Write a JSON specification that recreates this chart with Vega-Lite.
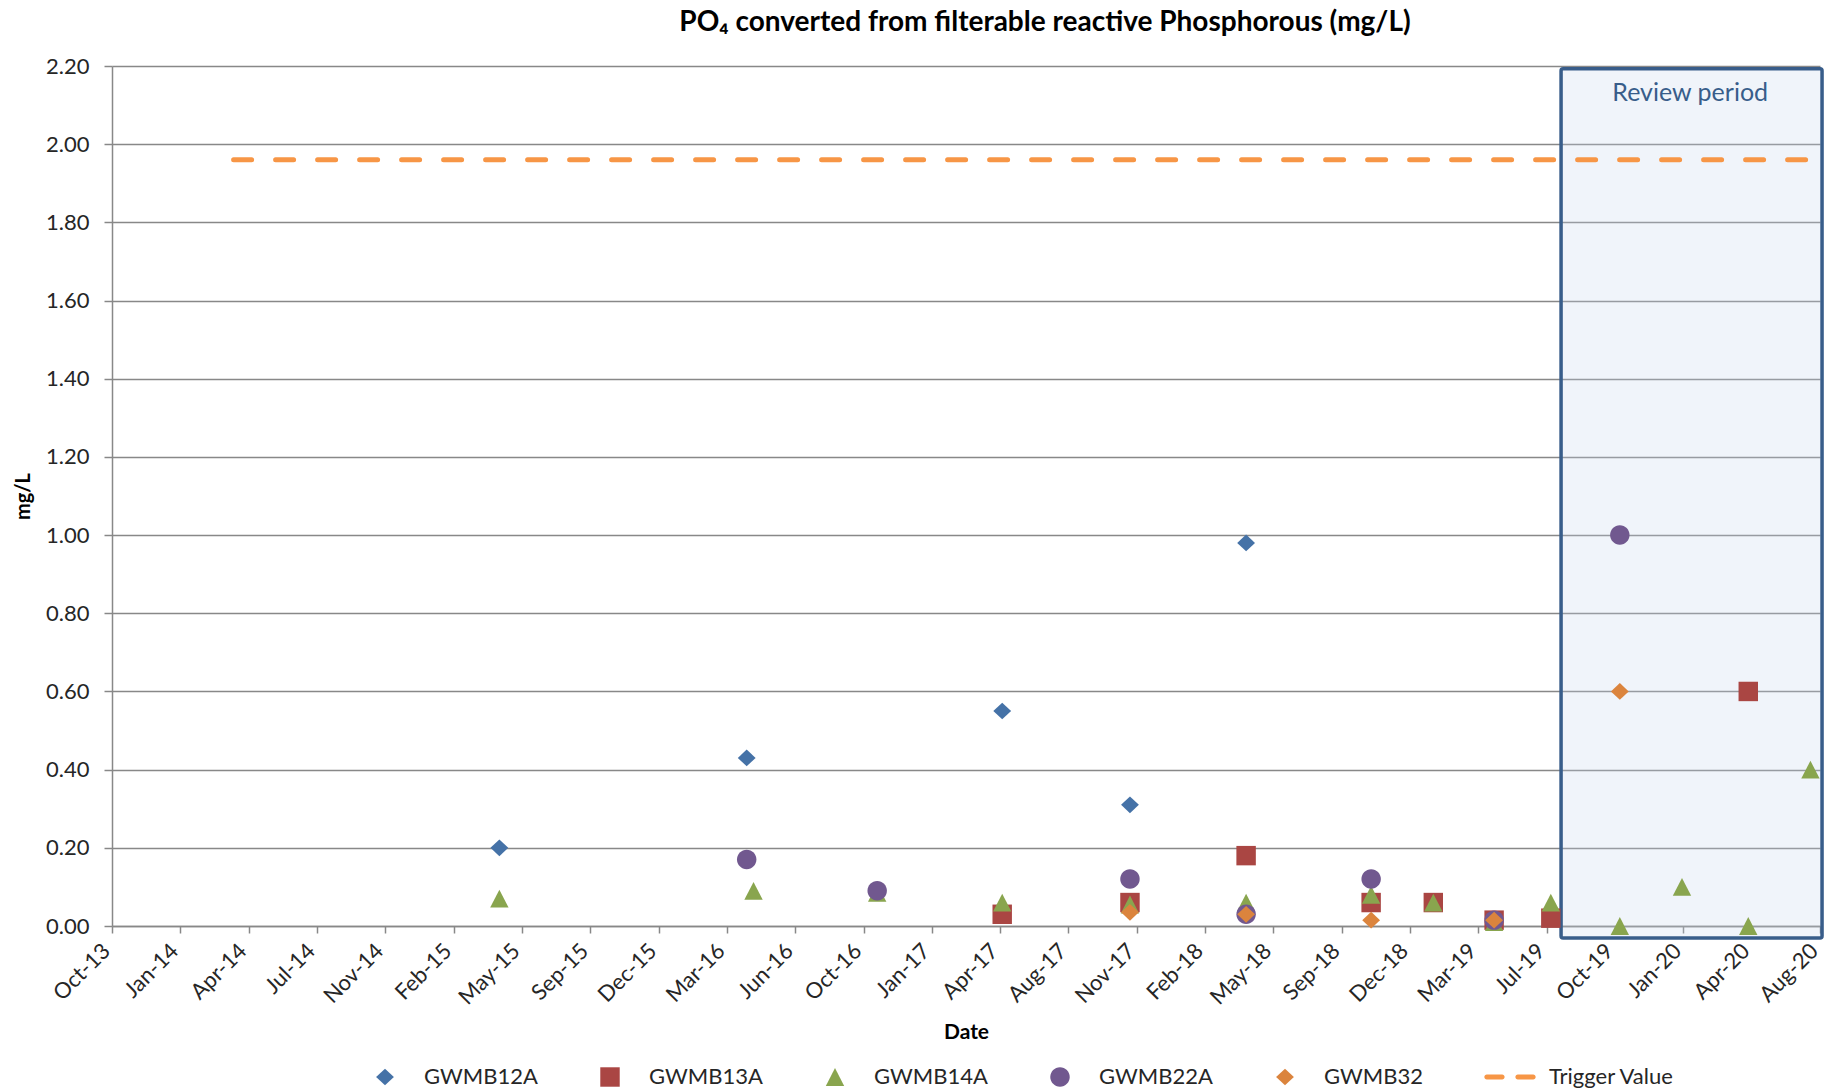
{
  "$schema": "https://vega.github.io/schema/vega-lite/v6.json",
  "autosize": "none",
  "width": 1708,
  "height": 860,
  "padding": {"left": 112, "top": 66, "right": 20, "bottom": 165},
  "background": "white",
  "title": {
    "text": "PO₄ converted from filterable reactive Phosphorous  (mg/L)",
    "font": "Lato",
    "fontSize": 28,
    "fontWeight": "bold",
    "color": "#000000",
    "anchor": "middle",
    "frame": "group",
    "dx": 79,
    "offset": 18
  },
  "datasets": {
    "review": [
      {"label": "Review period", "start": "2019-07-23", "end": "2020-08-08", "labelDate": "2020-01-28", "labelValue": 2.13, "top": 2.193, "bottom": -0.031}
    ],
    "trigger": [
      {"series": "Trigger Value", "start": "2014-03-28", "end": "2020-08-01", "value": 1.96}
    ],
    "samples": [
      {"series": "GWMB12A", "date": "2015-04-21", "value": 0.20},
      {"series": "GWMB12A", "date": "2016-04-17", "value": 0.43},
      {"series": "GWMB12A", "date": "2017-04-26", "value": 0.55},
      {"series": "GWMB12A", "date": "2017-10-30", "value": 0.31},
      {"series": "GWMB12A", "date": "2018-04-18", "value": 0.98},
      {"series": "GWMB13A", "date": "2017-04-26", "value": 0.03},
      {"series": "GWMB13A", "date": "2017-10-30", "value": 0.06},
      {"series": "GWMB13A", "date": "2018-04-18", "value": 0.18},
      {"series": "GWMB13A", "date": "2018-10-18", "value": 0.06},
      {"series": "GWMB13A", "date": "2019-01-17", "value": 0.06},
      {"series": "GWMB13A", "date": "2019-04-16", "value": 0.015},
      {"series": "GWMB13A", "date": "2019-07-08", "value": 0.02},
      {"series": "GWMB13A", "date": "2020-04-22", "value": 0.60},
      {"series": "GWMB14A", "date": "2015-04-21", "value": 0.07},
      {"series": "GWMB14A", "date": "2016-04-27", "value": 0.09},
      {"series": "GWMB14A", "date": "2016-10-25", "value": 0.085},
      {"series": "GWMB14A", "date": "2017-04-26", "value": 0.06},
      {"series": "GWMB14A", "date": "2017-10-30", "value": 0.055},
      {"series": "GWMB14A", "date": "2018-04-18", "value": 0.06},
      {"series": "GWMB14A", "date": "2018-10-18", "value": 0.08},
      {"series": "GWMB14A", "date": "2019-01-17", "value": 0.06},
      {"series": "GWMB14A", "date": "2019-04-16", "value": 0.01},
      {"series": "GWMB14A", "date": "2019-07-08", "value": 0.06},
      {"series": "GWMB14A", "date": "2019-10-17", "value": 0.00},
      {"series": "GWMB14A", "date": "2020-01-16", "value": 0.10},
      {"series": "GWMB14A", "date": "2020-04-22", "value": 0.00},
      {"series": "GWMB14A", "date": "2020-07-22", "value": 0.40},
      {"series": "GWMB22A", "date": "2016-04-17", "value": 0.17},
      {"series": "GWMB22A", "date": "2016-10-25", "value": 0.09},
      {"series": "GWMB22A", "date": "2017-10-30", "value": 0.12},
      {"series": "GWMB22A", "date": "2018-04-18", "value": 0.03},
      {"series": "GWMB22A", "date": "2018-10-18", "value": 0.12},
      {"series": "GWMB22A", "date": "2019-04-16", "value": 0.015},
      {"series": "GWMB22A", "date": "2019-10-17", "value": 1.00},
      {"series": "GWMB32", "date": "2017-10-30", "value": 0.035},
      {"series": "GWMB32", "date": "2018-04-18", "value": 0.03},
      {"series": "GWMB32", "date": "2018-10-18", "value": 0.015},
      {"series": "GWMB32", "date": "2019-04-16", "value": 0.015},
      {"series": "GWMB32", "date": "2019-10-17", "value": 0.60}
    ]
  },
  "config": {
    "view": {"stroke": null},
    "axis": {
      "labelFont": "Lato",
      "titleFont": "Lato",
      "labelColor": "#262626",
      "titleColor": "#000000",
      "domainColor": "#888888",
      "domainWidth": 1.5,
      "tickColor": "#888888",
      "tickWidth": 1.5
    },
    "axisX": {"grid": false},
    "axisY": {"grid": true, "gridColor": "#888888", "gridWidth": 1.4}
  },
  "layer": [
    {
      "data": {"name": "review"},
      "mark": {"type": "rect", "fill": "#C5D5EA", "fillOpacity": 0.25, "stroke": "#385D8A", "strokeWidth": 3.5, "cornerRadius": 2},
      "encoding": {
        "x": {"field": "start", "type": "temporal", "title": "Date", "scale": {"type": "utc", "domain": ["2013-10-01", "2020-08-05"]}},
        "x2": {"field": "end"},
        "y": {"field": "top", "type": "quantitative", "title": "mg/L", "scale": {"domain": [0, 2.2]}},
        "y2": {"field": "bottom"}
      }
    },
    {
      "data": {"name": "review"},
      "mark": {"type": "text", "font": "Lato", "fontSize": 25, "color": "#385D8A", "align": "center", "baseline": "middle"},
      "encoding": {
        "x": {"field": "labelDate", "type": "temporal", "title": "Date", "scale": {"type": "utc", "domain": ["2013-10-01", "2020-08-05"]}},
        "y": {"field": "labelValue", "type": "quantitative", "title": "mg/L", "scale": {"domain": [0, 2.2]}},
        "text": {"field": "label"}
      }
    },
    {
      "data": {"name": "trigger"},
      "mark": {"type": "rule", "color": "#F79646", "strokeWidth": 5, "strokeDash": [18, 24], "strokeCap": "round"},
      "encoding": {
        "x": {"field": "start", "type": "temporal", "title": "Date", "scale": {"type": "utc", "domain": ["2013-10-01", "2020-08-05"]}},
        "x2": {"field": "end"},
        "y": {"field": "value", "type": "quantitative", "title": "mg/L", "scale": {"domain": [0, 2.2]}}
      }
    },
    {
      "data": {"name": "samples"},
      "mark": {"type": "point", "filled": true, "opacity": 1, "size": 2916},
      "encoding": {
        "x": {
          "field": "date",
          "type": "temporal",
          "title": "Date",
          "scale": {"type": "utc", "domain": ["2013-10-01", "2020-08-05"]},
          "axis": {
            "format": "%b-%y",
            "values": [
              {"year": 2013, "month": 10, "date": 1, "utc": true},
              {"year": 2014, "month": 1, "date": 9, "utc": true},
              {"year": 2014, "month": 4, "date": 19, "utc": true},
              {"year": 2014, "month": 7, "date": 28, "utc": true},
              {"year": 2014, "month": 11, "date": 5, "utc": true},
              {"year": 2015, "month": 2, "date": 13, "utc": true},
              {"year": 2015, "month": 5, "date": 24, "utc": true},
              {"year": 2015, "month": 9, "date": 1, "utc": true},
              {"year": 2015, "month": 12, "date": 10, "utc": true},
              {"year": 2016, "month": 3, "date": 19, "utc": true},
              {"year": 2016, "month": 6, "date": 27, "utc": true},
              {"year": 2016, "month": 10, "date": 5, "utc": true},
              {"year": 2017, "month": 1, "date": 13, "utc": true},
              {"year": 2017, "month": 4, "date": 23, "utc": true},
              {"year": 2017, "month": 8, "date": 1, "utc": true},
              {"year": 2017, "month": 11, "date": 9, "utc": true},
              {"year": 2018, "month": 2, "date": 17, "utc": true},
              {"year": 2018, "month": 5, "date": 28, "utc": true},
              {"year": 2018, "month": 9, "date": 5, "utc": true},
              {"year": 2018, "month": 12, "date": 14, "utc": true},
              {"year": 2019, "month": 3, "date": 24, "utc": true},
              {"year": 2019, "month": 7, "date": 2, "utc": true},
              {"year": 2019, "month": 10, "date": 10, "utc": true},
              {"year": 2020, "month": 1, "date": 18, "utc": true},
              {"year": 2020, "month": 4, "date": 27, "utc": true},
              {"year": 2020, "month": 8, "date": 5, "utc": true}
            ],
            "grid": false,
            "tickSize": 7,
            "labelAngle": -45,
            "labelAlign": "right",
            "labelBaseline": "middle",
            "labelPadding": 14,
            "labelOffset": -6,
            "labelFontSize": 22,
            "labelOverlap": false,
            "labelBound": false,
            "labelFlush": false,
            "titleFontSize": 21,
            "titleFontWeight": "bold",
            "titlePadding": 13
          }
        },
        "y": {
          "field": "value",
          "type": "quantitative",
          "title": "mg/L",
          "scale": {"domain": [0, 2.2]},
          "axis": {
            "values": [0, 0.2, 0.4, 0.6, 0.8, 1.0, 1.2, 1.4, 1.6, 1.8, 2.0, 2.2],
            "format": ".2f",
            "grid": true,
            "gridColor": "#888888",
            "gridWidth": 1.4,
            "tickSize": 8,
            "labelPadding": 15,
            "labelFontSize": 22,
            "titleFontSize": 20,
            "titleFontWeight": "bold",
            "titlePadding": 12
          }
        },
        "color": {
          "field": "series",
          "type": "nominal",
          "scale": {
            "domain": ["GWMB12A", "GWMB13A", "GWMB14A", "GWMB22A", "GWMB32", "Trigger Value"],
            "range": ["#4572A7", "#AA4643", "#89A54E", "#71588F", "#DB843D", "#F79646"]
          },
          "legend": {
            "title": null,
            "orient": "none",
            "legendX": 245,
            "legendY": 983,
            "direction": "horizontal",
            "columns": 6,
            "gridAlign": "all",
            "columnPadding": 32,
            "padding": 0,
            "symbolSize": 2916,
            "labelOffset": 11,
            "labelFont": "Lato",
            "labelFontSize": 22,
            "labelColor": "#262626",
            "labelLimit": 300
          }
        },
        "shape": {
          "field": "series",
          "type": "nominal",
          "scale": {
            "domain": ["GWMB12A", "GWMB13A", "GWMB14A", "GWMB22A", "GWMB32", "Trigger Value"],
            "range": [
              "M-0.33,0L0,-0.31L0.33,0L0,0.31Z",
              "M-0.36,-0.36H0.36V0.36H-0.36Z",
              "M0,-0.33L0.34,0.33L-0.34,0.33Z",
              "M0.36,0A0.36,0.36 0 1,1 -0.36,0A0.36,0.36 0 1,1 0.36,0Z",
              "M-0.33,0L0,-0.31L0.33,0L0,0.31Z",
              "M-0.86,-0.09H-0.29A0.09,0.09 0 0,1 -0.29,0.09H-0.86A0.09,0.09 0 0,1 -0.86,-0.09Z M0.29,-0.09H0.86A0.09,0.09 0 0,1 0.86,0.09H0.29A0.09,0.09 0 0,1 0.29,-0.09Z"
            ]
          },
          "legend": {
            "title": null,
            "orient": "none",
            "legendX": 245,
            "legendY": 983,
            "direction": "horizontal",
            "columns": 6,
            "gridAlign": "all",
            "columnPadding": 32,
            "padding": 0,
            "symbolSize": 2916,
            "labelOffset": 11,
            "labelFont": "Lato",
            "labelFontSize": 22,
            "labelColor": "#262626",
            "labelLimit": 300
          }
        }
      }
    }
  ]
}
